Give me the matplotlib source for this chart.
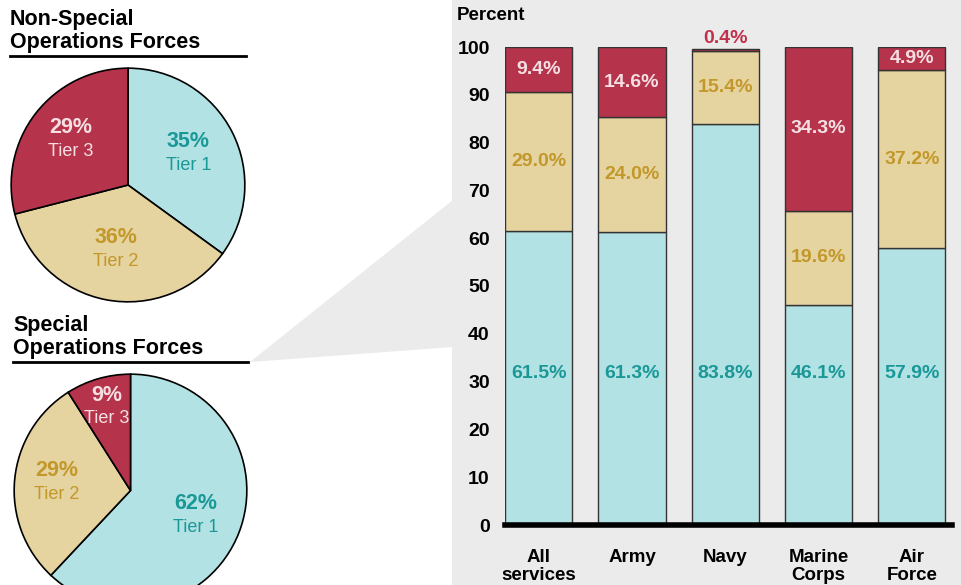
import numpy as np
import matplotlib.pyplot as plt
from matplotlib.patches import Rectangle, Polygon

plt.rcParams['font.family'] = ['Liberation Sans', 'DejaVu Sans']

# Data
services = ["All\nservices", "Army", "Navy", "Marine\nCorps", "Air\nForce"]
tier1 = [61.5, 61.3, 83.8, 46.1, 57.9]
tier2 = [29.0, 24.0, 15.4, 19.6, 37.2]
tier3 = [9.4, 14.6, 0.4, 34.3, 4.9]

tier_names = ["Tier 1", "Tier 2", "Tier 3"]
non_sof = [35, 36, 29]
sof = [62, 29, 9]

# Colours
fill_colors = ["#b2e2e3", "#e5d3a0", "#b5344b"]
text_colors = ["#1a9898", "#c2982a", "#f5dfe3"]
panel_gray = "#ebebeb"

W, H = 962, 585
fig = plt.figure(figsize=(W / 100, H / 100), dpi=100)


def fx(x):
    return x / W


def fy(y):
    return 1 - y / H


# Gray panel and the connecting wedge
fig.patches.append(Rectangle((fx(452), 0), 1 - fx(452), 1, transform=fig.transFigure,
                             facecolor=panel_gray, edgecolor="none", zorder=-2))
fig.patches.append(Polygon([(fx(250), fy(362)), (fx(453), fy(200)), (fx(453), fy(347))],
                           closed=True, transform=fig.transFigure,
                           facecolor=panel_gray, edgecolor="none", zorder=-2))

# Stacked bar chart
ax = fig.add_axes([fx(505), fy(525), fx(952) - fx(505), fy(47) - fy(525)])
ax.set_facecolor("none")
x = list(range(len(services)))
bottom2 = tier1
bottom3 = [a + b for a, b in zip(tier1, tier2)]
bw = 0.72
ax.bar(x, tier1, bw, color=fill_colors[0], edgecolor="#333333", linewidth=1)
ax.bar(x, tier2, bw, bottom=bottom2, color=fill_colors[1], edgecolor="#333333", linewidth=1)
ax.bar(x, tier3, bw, bottom=bottom3, color=fill_colors[2], edgecolor="#333333", linewidth=1)

ax.set_xlim(-0.36, 4.43)
ax.set_ylim(0, 100)
ax.set_yticks(range(0, 101, 10))
ax.set_xticks(x)
ax.set_xticklabels(services, fontsize=13.5, fontweight="bold", linespacing=1.1)
for lbl in ax.get_yticklabels():
    lbl.set_fontweight("bold")
ax.tick_params(axis="y", length=0, pad=11, labelsize=14)
ax.tick_params(axis="x", length=0, pad=17)
for s in ["top", "right", "left"]:
    ax.spines[s].set_visible(False)
ax.spines["bottom"].set_linewidth(4)
ax.spines["bottom"].set_color("black")

for i in x:
    ax.text(i, 31.6, f"{tier1[i]:.1f}%", ha="center", va="center",
            fontsize=14, fontweight="bold", color=text_colors[0])
    ax.text(i, tier1[i] + tier2[i] / 2, f"{tier2[i]:.1f}%", ha="center", va="center",
            fontsize=14, fontweight="bold", color=text_colors[1])
    if tier3[i] >= 2:
        ax.text(i, bottom3[i] + tier3[i] / 2, f"{tier3[i]:.1f}%", ha="center", va="center",
                fontsize=14, fontweight="bold", color=text_colors[2])
    else:
        ax.text(i, 100.8, f"{tier3[i]:.1f}%", ha="center", va="baseline",
                fontsize=14, fontweight="bold", color="#c0304c", clip_on=False)

fig.text(fx(457), fy(16), "Percent", ha="left", va="center", fontsize=13.5, fontweight="bold")


# Pies
def draw_pie(cx, cy, r, values, dists, title, tx, ty, line_y, line_x0, line_x1):
    pax = fig.add_axes([fx(cx - r), fy(cy + r), (2 * r) / W, (2 * r) / H])
    wedges, _ = pax.pie(values, colors=fill_colors, startangle=90, counterclock=False,
                        wedgeprops=dict(edgecolor="black", linewidth=1.2))
    pax.set_xlim(-1.01, 1.01)
    pax.set_ylim(-1.01, 1.01)
    for k, w in enumerate(wedges):
        ang = np.deg2rad((w.theta1 + w.theta2) / 2)
        px, py = dists[k] * np.cos(ang), dists[k] * np.sin(ang)
        pax.text(px, py + 0.02, f"{values[k]}%", ha="center", va="bottom",
                 fontsize=15.5, fontweight="bold", color=text_colors[k])
        pax.text(px, py - 0.02, tier_names[k], ha="center", va="top",
                 fontsize=13, color=text_colors[k])
    fig.text(fx(tx), fy(ty), title, ha="left", va="bottom", fontsize=15.5,
             fontweight="bold", linespacing=1.1)
    fig.add_artist(plt.Line2D([fx(line_x0), fx(line_x1)], [fy(line_y), fy(line_y)],
                              color="black", linewidth=2, transform=fig.transFigure))


draw_pie(128, 185, 118, non_sof, [0.58, 0.57, 0.62],
         "Non-Special\nOperations Forces", 10, 53, 56, 10, 246)
draw_pie(130.5, 490.5, 117.5, sof, [0.6, 0.64, 0.74],
         "Special\nOperations Forces", 13, 359, 362, 13, 248)

fig.savefig("out.png", dpi=100)
